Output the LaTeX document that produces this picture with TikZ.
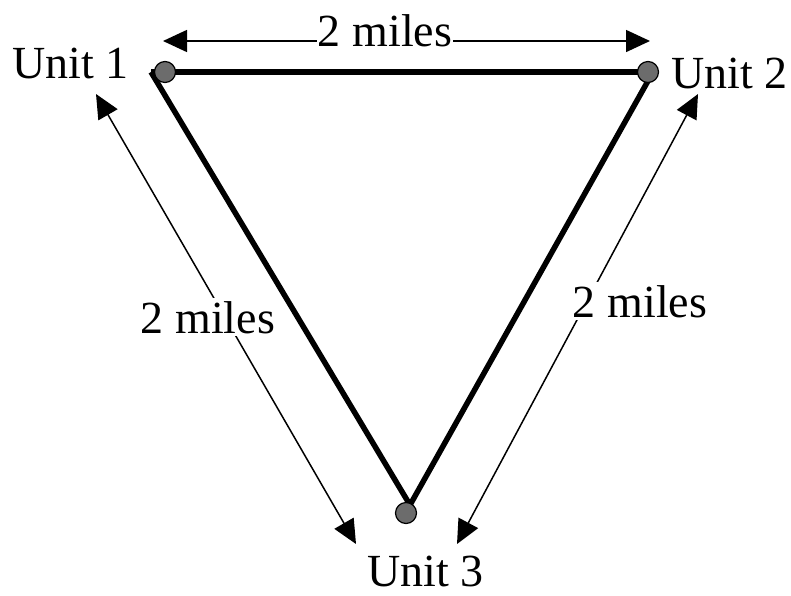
\documentclass[tikz,border=0pt]{standalone}
\usepackage{fontspec}
\setmainfont{Liberation Serif}
\usetikzlibrary{arrows.meta}
\begin{document}
\begin{tikzpicture}[x=1pt,y=-1pt,
  lbl/.style={inner sep=0pt,font=\fontsize{46}{50}\selectfont},
  dimlbl/.style={lbl,fill=white,inner ysep=3pt,inner xsep=1pt},
  edge/.style={line width=5.5pt},
  dimarrow/.style={line width=1.5pt,{Triangle[length=24pt,width=22pt]}-{Triangle[length=24pt,width=22pt]}},
  dot/.style={circle,draw=black,line width=1.2pt,fill=gray!85!black,minimum size=21pt,inner sep=0pt}]
\useasboundingbox (0,0) rectangle (791,595);
% triangle corners
\coordinate (k1) at (151,72);
\coordinate (k2) at (653,72);
\coordinate (k3) at (410,505);
\draw[edge] (k1) -- (k2);
\draw[edge] (k1) -- (k3);
\draw[edge] (k2) -- (k3);
% units
\node[dot] (u1) at (165,72) {};
\node[dot] (u2) at (648,72) {};
\node[dot] (u3) at (406,513) {};
\node[lbl,anchor=base west] (t1) at (12,78) {Unit 1};
\node[lbl,anchor=base west] (t2) at (671,88) {Unit 2};
\node[lbl,anchor=base west] (t3) at (367,586) {Unit 3};
% dimension arrows
\coordinate (a1) at (163,41);
\coordinate (a2) at (650,41);
\coordinate (b1) at (96,94);
\coordinate (b2) at (356,544);
\coordinate (c1) at (457,544);
\coordinate (c2) at (698,94);
\draw[dimarrow] (a1) -- (a2);
\draw[dimarrow] (b1) -- (b2);
\draw[dimarrow] (c1) -- (c2);
\node[dimlbl,anchor=base] (m1) at (385,46) {2 miles};
\node[dimlbl,anchor=base] (m2) at (208,333) {2 miles};
\node[dimlbl,anchor=base] (m3) at (640,317) {2 miles};
\end{tikzpicture}
\end{document}
